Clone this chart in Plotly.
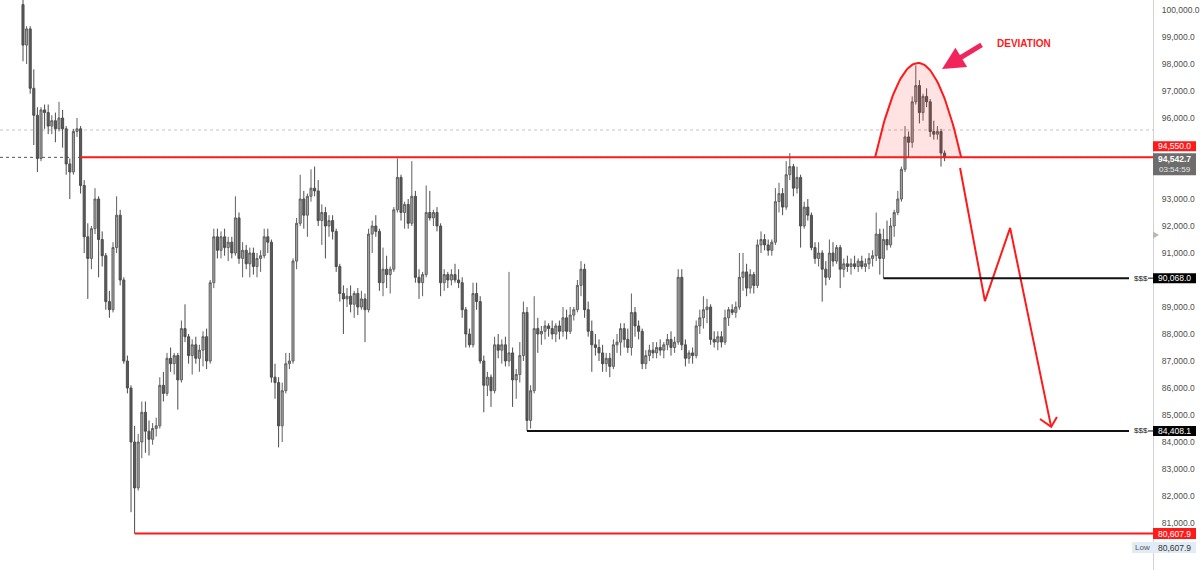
import plotly.graph_objects as go

# ---------------- candle data (prices in thousands of USD) ----------------
open_k = [100.2, 98.7, 99.3, 97.1, 96.1, 94.5, 96.3, 96.2, 95.7, 95.9,
          95.6, 96.0, 95.6, 94.3, 94.0, 95.5, 95.6, 93.5, 91.6, 90.8,
          91.9, 93.0, 91.5, 90.9, 89.2, 88.9, 91.2, 92.4, 90.0, 87.0,
          86.0, 84.0, 82.3, 84.0, 85.1, 84.4, 84.1, 84.5, 84.6, 86.1,
          85.8, 87.1, 86.9, 87.2, 86.3, 88.2, 87.9, 87.2, 87.6, 87.1,
          87.4, 87.9, 87.0, 89.9, 91.6, 91.1, 91.6, 91.2, 91.4, 91.0,
          92.3, 90.8, 91.1, 90.6, 91.0, 90.5, 90.8, 90.9, 91.6, 91.4,
          86.4, 86.2, 84.6, 85.9, 86.9, 87.0, 90.7, 92.1, 93.0, 92.4,
          93.1, 93.4, 93.3, 92.2, 92.5, 92.0, 92.2, 91.8, 90.5, 89.5,
          89.3, 89.4, 89.1, 89.5, 89.0, 89.3, 88.9, 91.7, 92.0, 91.8,
          89.9, 90.4, 90.2, 90.4, 92.6, 93.8, 92.5, 92.8, 92.1, 93.1,
          90.1, 89.9, 90.2, 92.5, 92.3, 92.5, 92.0, 89.9, 90.2, 90.0,
          90.2, 90.0, 89.9, 88.9, 88.0, 87.6, 89.5, 89.2, 87.0, 86.1,
          86.4, 85.9, 87.6, 87.4, 87.6, 87.0, 87.3, 86.3, 86.5, 87.2,
          88.8, 84.8, 85.9, 88.2, 88.0, 88.1, 88.3, 88.2, 88.0, 88.3,
          88.1, 88.6, 88.1, 88.7, 88.9, 89.8, 90.4, 88.9, 88.1, 87.6,
          87.5, 87.3, 86.9, 87.1, 86.8, 87.6, 87.7, 88.2, 87.8, 87.5,
          88.8, 88.3, 88.1, 86.9, 87.2, 87.4, 87.3, 87.5, 87.4, 87.6,
          87.8, 87.5, 87.7, 90.1, 87.6, 87.1, 87.3, 87.2, 88.3, 88.6,
          88.9, 89.0, 87.8, 87.7, 87.9, 87.7, 88.6, 88.9, 88.8, 89.0,
          90.1, 90.3, 89.7, 90.2, 89.8, 91.3, 91.5, 91.3, 91.1, 91.4,
          92.9, 93.2, 92.7, 93.9, 94.2, 93.4, 93.8, 92.0, 92.7, 92.4,
          91.2, 90.8, 91.0, 90.4, 90.1, 91.0, 90.7, 91.2, 90.4, 90.6,
          90.5, 90.6, 90.5, 90.7, 90.5, 90.6, 90.8, 90.9, 91.7, 90.8,
          91.5, 91.3, 92.0, 92.5, 93.0, 94.1, 95.3, 95.1, 96.6, 97.2,
          96.2, 96.8, 96.6, 95.5, 95.4, 95.5, 94.7]
high_k = [100.8, 99.4, 99.4, 97.8, 96.4, 96.4, 96.5, 96.5, 96.1, 96.2,
          96.6, 96.3, 95.7, 94.5, 95.6, 96.0, 95.7, 93.7, 92.1, 92.0,
          93.4, 93.1, 91.8, 91.0, 89.6, 91.4, 93.1, 92.6, 90.1, 87.2,
          86.1, 84.6, 84.3, 85.5, 85.5, 84.8, 84.7, 84.9, 86.4, 86.6,
          87.3, 87.5, 87.3, 87.3, 88.5, 89.1, 88.0, 87.8, 87.9, 87.6,
          88.1, 88.2, 90.0, 91.9, 91.9, 91.8, 91.9, 91.6, 91.6, 93.1,
          92.5, 91.4, 91.3, 91.2, 91.2, 91.0, 91.1, 91.9, 91.9, 91.5,
          86.9, 86.4, 86.2, 87.3, 87.3, 90.8, 92.3, 93.9, 93.3, 93.2,
          94.1, 94.2, 93.7, 92.8, 92.7, 92.4, 92.4, 91.9, 90.6, 89.8,
          89.7, 89.8, 89.6, 89.7, 89.6, 89.5, 91.9, 92.2, 92.4, 91.9,
          91.2, 90.9, 90.5, 92.7, 94.5, 93.9, 92.9, 93.0, 94.4, 93.3,
          90.4, 90.3, 93.5, 93.3, 92.6, 92.7, 92.1, 90.4, 90.3, 90.4,
          90.6, 90.4, 90.1, 89.0, 88.2, 89.9, 89.9, 89.4, 87.2, 86.6,
          86.5, 87.9, 88.0, 87.8, 87.9, 90.3, 87.5, 86.7, 87.7, 89.2,
          89.0, 86.1, 89.4, 88.6, 88.3, 88.5, 88.4, 88.5, 88.4, 88.5,
          89.0, 88.9, 89.0, 89.0, 90.0, 90.7, 90.6, 89.2, 88.5, 88.0,
          87.8, 87.6, 87.3, 87.3, 87.8, 88.0, 88.4, 88.4, 88.2, 89.5,
          89.0, 88.5, 88.2, 87.4, 87.6, 87.7, 87.7, 87.8, 87.7, 88.0,
          88.1, 87.9, 90.4, 90.4, 87.8, 87.4, 87.5, 88.5, 88.9, 89.4,
          89.3, 89.1, 88.1, 88.1, 88.1, 88.9, 89.0, 89.1, 89.2, 91.0,
          91.0, 90.6, 90.4, 90.3, 91.5, 91.8, 91.7, 91.5, 91.5, 93.4,
          93.6, 93.4, 94.4, 94.7, 94.3, 94.2, 93.9, 92.9, 93.0, 92.5,
          91.4, 91.4, 91.1, 90.7, 91.5, 91.4, 91.3, 91.3, 90.8, 90.9,
          90.8, 90.9, 90.8, 90.9, 90.8, 91.0, 91.1, 92.5, 91.9, 91.9,
          92.2, 92.3, 92.6, 93.3, 94.2, 95.7, 95.5, 96.8, 97.95, 97.4,
          96.9, 97.1, 96.7, 95.9, 95.7, 95.6, 94.8]
low_k = [98.1, 98.0, 96.9, 95.0, 94.0, 94.4, 95.6, 95.4, 95.4, 95.1,
         95.5, 94.9, 93.9, 93.0, 93.9, 95.3, 93.2, 91.0, 89.3, 90.4,
         91.7, 90.1, 90.5, 88.9, 88.6, 88.8, 91.0, 89.8, 86.9, 85.8,
         81.4, 80.6079, 82.2, 83.4, 83.6, 83.5, 83.9, 84.2, 84.5, 85.5,
         85.7, 86.6, 86.5, 85.2, 86.2, 87.7, 86.9, 86.5, 86.9, 86.6,
         86.8, 86.7, 86.9, 89.7, 90.8, 90.8, 90.9, 90.7, 90.8, 90.9,
         90.6, 90.1, 90.4, 90.1, 90.2, 90.1, 90.3, 90.8, 91.0, 86.2,
         85.6, 83.8, 84.0, 85.8, 86.7, 86.9, 90.4, 92.0, 91.9, 91.6,
         92.9, 93.1, 92.0, 91.3, 90.8, 91.6, 91.5, 90.3, 89.2, 88.0,
         89.0, 88.8, 88.6, 88.7, 88.9, 87.7, 88.8, 91.0, 91.6, 89.6,
         89.4, 89.7, 89.5, 90.3, 92.5, 92.2, 91.9, 91.9, 92.0, 89.9,
         89.3, 89.4, 90.1, 92.2, 92.0, 91.8, 89.4, 89.6, 89.7, 89.8,
         89.9, 89.7, 88.6, 87.5, 87.5, 87.5, 88.9, 86.9, 85.1, 85.7,
         85.3, 85.8, 87.1, 86.9, 86.8, 86.8, 85.3, 85.6, 86.2, 87.0,
         84.4081, 84.5, 85.8, 87.3, 87.6, 87.8, 87.9, 87.8, 87.7, 87.8,
         87.9, 87.8, 88.0, 88.5, 88.8, 89.4, 88.6, 87.9, 86.6, 87.2,
         87.0, 86.6, 86.6, 86.4, 86.7, 87.3, 87.2, 87.5, 87.3, 87.2,
         87.9, 87.8, 86.7, 86.7, 87.0, 87.1, 87.1, 87.2, 87.1, 87.4,
         87.2, 87.3, 87.6, 87.4, 86.8, 86.9, 86.9, 87.1, 88.0, 88.2,
         88.4, 87.6, 87.5, 87.4, 87.5, 87.6, 88.3, 88.7, 88.6, 88.9,
         89.6, 89.4, 89.5, 89.5, 89.7, 91.0, 91.1, 90.9, 90.9, 91.3,
         92.5, 92.4, 92.6, 93.7, 93.1, 93.2, 91.2, 91.9, 92.2, 91.1,
         90.6, 90.5, 89.2, 89.8, 90.0, 90.5, 90.6, 89.7, 90.1, 90.3,
         90.2, 90.4, 90.3, 90.4, 90.3, 90.4, 90.5, 90.7, 90.2, 90.068,
         91.1, 91.2, 91.6, 92.4, 92.9, 94.0, 94.55, 94.9, 96.5, 95.8,
         95.9, 96.4, 95.3, 95.2, 95.2, 94.2, 94.4]
close_k = [98.7, 99.3, 97.1, 96.1, 94.5, 96.3, 96.2, 95.7, 95.9, 95.6,
           96.0, 95.6, 94.3, 94.0, 95.5, 95.6, 93.5, 91.6, 90.8, 91.9,
           93.0, 91.5, 90.9, 89.2, 88.9, 91.2, 92.4, 90.0, 87.0, 86.0,
           84.0, 82.3, 84.0, 85.1, 84.4, 84.1, 84.5, 84.6, 86.1, 85.8,
           87.1, 86.9, 87.2, 86.3, 88.2, 87.9, 87.2, 87.6, 87.1, 87.4,
           87.9, 87.0, 89.9, 91.6, 91.1, 91.6, 91.2, 91.4, 91.0, 92.3,
           90.8, 91.1, 90.6, 91.0, 90.5, 90.8, 90.9, 91.6, 91.4, 86.4,
           86.2, 84.6, 85.9, 86.9, 87.0, 90.7, 92.1, 93.0, 92.4, 93.1,
           93.4, 93.3, 92.2, 92.5, 92.0, 92.2, 91.8, 90.5, 89.5, 89.3,
           89.4, 89.1, 89.5, 89.0, 89.3, 88.9, 91.7, 92.0, 91.8, 89.9,
           90.4, 90.2, 90.4, 92.6, 93.8, 92.5, 92.8, 92.1, 93.1, 90.1,
           89.9, 90.2, 92.5, 92.3, 92.5, 92.0, 89.9, 90.2, 90.0, 90.2,
           90.0, 89.9, 88.9, 88.0, 87.6, 89.5, 89.2, 87.0, 86.1, 86.4,
           85.9, 87.6, 87.4, 87.6, 87.0, 87.3, 86.3, 86.5, 87.2, 88.8,
           84.8, 85.9, 88.2, 88.0, 88.1, 88.3, 88.2, 88.0, 88.3, 88.1,
           88.6, 88.1, 88.7, 88.9, 89.8, 90.4, 88.9, 88.1, 87.6, 87.5,
           87.3, 86.9, 87.1, 86.8, 87.6, 87.7, 88.2, 87.8, 87.5, 88.8,
           88.3, 88.1, 86.9, 87.2, 87.4, 87.3, 87.5, 87.4, 87.6, 87.8,
           87.5, 87.7, 90.1, 87.6, 87.1, 87.3, 87.2, 88.3, 88.6, 88.9,
           89.0, 87.8, 87.7, 87.9, 87.7, 88.6, 88.9, 88.8, 89.0, 90.1,
           90.3, 89.7, 90.2, 89.8, 91.3, 91.5, 91.3, 91.1, 91.4, 92.9,
           93.2, 92.7, 93.9, 94.2, 93.4, 93.8, 92.0, 92.7, 92.4, 91.2,
           90.8, 91.0, 90.4, 90.1, 91.0, 90.7, 91.2, 90.4, 90.6, 90.5,
           90.6, 90.5, 90.7, 90.5, 90.6, 90.8, 90.9, 91.7, 90.8, 91.5,
           91.3, 92.0, 92.5, 93.0, 94.1, 95.3, 95.1, 96.6, 97.2, 96.2,
           96.8, 96.6, 95.5, 95.4, 95.5, 94.7, 94.5427]

# ---------------- levels / labels ----------------
price_ticks = [81000, 82000, 83000, 84000, 85000, 86000, 87000, 88000, 89000,
               91000, 92000, 93000, 96000, 97000, 98000, 99000, 100000]
resistance = 94550.0
current_price = 94542.7
countdown = "03:54:59"
liq_high = 90068.0
liq_low = 84408.1
range_low = 80607.9
faint_level = 95555.0
resistance_start = 16
liq_high_start = 239
liq_low_start = 140
range_low_start = 31

# drawing (annotation) points in chart space: x = candle index, y = price
arc_left, arc_right, arc_top = 236.7, 260.6, 98037.0
proj_x = [260.3, 267.2, 274.2, 285.6]
proj_y = [94150, 89220, 91930, 84560]
head_x = [282.5, 285.6, 287.2]
head_y = [84850, 84560, 84930]
dev_tip_x, dev_tip_y = 255.3, 97815.0
dev_text_x, dev_text_y = 278.1, 98741.0

# ---------------- geometry ----------------
W, H = 1200, 570
PLOT_W = 1153
X_MIN, X_MAX = -6.389, 313.889
Y_MIN, Y_MAX = 79259.26, 100370.37
PX = (Y_MAX - Y_MIN) / H  # price per pixel

def xpx(px):
    return px / PLOT_W

def idx_of_px(px):
    return X_MIN + (X_MAX - X_MIN) * px / PLOT_W

def px_of(price):
    return (Y_MAX - price) / PX

FONT = "Liberation Sans, Arial, sans-serif"

n = len(close_k)
xs = list(range(n))
fig = go.Figure()

fig.add_trace(go.Candlestick(
    x=xs,
    open=[v * 1000 for v in open_k],
    high=[v * 1000 for v in high_k],
    low=[v * 1000 for v in low_k],
    close=[v * 1000 for v in close_k],
    increasing=dict(line=dict(color="#606060", width=1), fillcolor="#a4a4a4"),
    decreasing=dict(line=dict(color="#4c4c4c", width=1), fillcolor="#5a5a5a"),
    whiskerwidth=0, hoverinfo="skip", showlegend=False,
))

# deviation arc
steps = 60
arc_x = [arc_left + (arc_right - arc_left) * k / steps for k in range(steps + 1)]
arc_y = [resistance + (arc_top - resistance) * (1 - (2 * k / steps - 1) ** 2) for k in range(steps + 1)]
fig.add_trace(go.Scatter(x=arc_x, y=arc_y, mode="lines", fill="toself",
                         fillcolor="rgba(255,40,40,0.13)",
                         line=dict(color="#ff1a1a", width=2),
                         hoverinfo="skip", showlegend=False))

# projection path
fig.add_trace(go.Scatter(x=proj_x, y=proj_y, mode="lines",
                         line=dict(color="#ff1a1a", width=2),
                         hoverinfo="skip", showlegend=False))
fig.add_trace(go.Scatter(x=head_x, y=head_y, mode="lines",
                         line=dict(color="#ff1a1a", width=2),
                         hoverinfo="skip", showlegend=False))

shapes = []
shapes.append(dict(type="line", xref="x", yref="y", x0=X_MIN, x1=X_MAX,
                   y0=faint_level, y1=faint_level,
                   line=dict(color="#c4c4c4", width=1, dash="dot"), layer="below"))
shapes.append(dict(type="line", xref="x", yref="y", x0=X_MIN, x1=X_MAX,
                   y0=current_price, y1=current_price,
                   line=dict(color="#555555", width=1, dash="dot"), layer="below"))
shapes.append(dict(type="line", xref="x", yref="y", x0=resistance_start, x1=X_MAX,
                   y0=resistance, y1=resistance,
                   line=dict(color="#ff1a1a", width=2)))
shapes.append(dict(type="line", xref="x", yref="y", x0=range_low_start, x1=X_MAX,
                   y0=range_low, y1=range_low,
                   line=dict(color="#ff1a1a", width=2)))
line_end = idx_of_px(1129)
for lvl, start in ((liq_high, liq_high_start), (liq_low, liq_low_start)):
    shapes.append(dict(type="line", xref="x", yref="y", x0=start, x1=line_end,
                       y0=lvl, y1=lvl, line=dict(color="#111111", width=2)))
    shapes.append(dict(type="line", xref="x", yref="y", x0=idx_of_px(1148), x1=X_MAX,
                       y0=lvl, y1=lvl, line=dict(color="#111111", width=1)))

def badge(y_center_px, y_half_px, color, x0_px=1153, x1_px=1196):
    return dict(type="rect", xref="paper", yref="paper",
                x0=xpx(x0_px), x1=xpx(x1_px),
                y0=1 - (y_center_px + y_half_px) / H, y1=1 - (y_center_px - y_half_px) / H,
                fillcolor=color, line=dict(width=0), layer="above")

res_c = px_of(resistance) - 11
cur_c = px_of(current_price) + 7
shapes.append(badge(res_c, 5, "#ff1a1a"))
shapes.append(badge(cur_c, 11, "#6d6d6d"))
shapes.append(badge(px_of(liq_high), 5, "#000000"))
shapes.append(badge(px_of(liq_low), 5, "#000000"))
shapes.append(badge(px_of(range_low), 5.5, "#ff1a1a"))
low_c = px_of(range_low) + 14
shapes.append(badge(low_c, 5.5, "#e2ecf7", 1132, 1153))
shapes.append(badge(low_c, 5.5, "#e2ecf7"))
tri_c = 235
shapes.append(dict(type="path", xref="paper", yref="paper",
                   path=f"M {xpx(1153)} {1 - (tri_c - 3.5) / H} L {xpx(1159)} {1 - tri_c / H} "
                        f"L {xpx(1153)} {1 - (tri_c + 3.5) / H} Z",
                   fillcolor="#b8b8b8", line=dict(width=0)))

annotations = []

def label(text, y_px, color, size=8.5, bold=False, x_px=1174.5):
    t = f"<b>{text}</b>" if bold else text
    annotations.append(dict(xref="paper", yref="paper", x=xpx(x_px), y=1 - y_px / H,
                            text=t, showarrow=False, xanchor="center", yanchor="middle",
                            font=dict(family=FONT, size=size, color=color)))

label(f"{resistance:,.1f}", res_c, "#ffffff")
label(f"{current_price:,.1f}", cur_c - 5, "#ffffff", bold=True)
label(countdown, cur_c + 5.5, "#e6e6e6", size=8)
label(f"{liq_high:,.1f}", px_of(liq_high), "#ffffff")
label(f"{liq_low:,.1f}", px_of(liq_low), "#ffffff")
label(f"{range_low:,.1f}", px_of(range_low), "#ffffff")
label("Low", low_c, "#555555", size=8, x_px=1142)
label(f"{range_low:,.1f}", low_c, "#333333")
for lvl in (liq_high, liq_low):
    label("$$$", px_of(lvl), "#222222", size=8, x_px=1140.5)

annotations.append(dict(xref="x", yref="y", x=dev_tip_x, y=dev_tip_y, text="",
                        showarrow=True, ax=41, ay=-25, arrowhead=2, arrowsize=0.9,
                        arrowwidth=5, arrowcolor="#f2245c", standoff=0))
annotations.append(dict(xref="x", yref="y", x=dev_text_x, y=dev_text_y,
                        text="<b>DEVIATION</b>", showarrow=False,
                        xanchor="center", yanchor="middle",
                        font=dict(family=FONT, size=10, color="#ff1a1a")))

fig.update_layout(
    width=W, height=H,
    margin=dict(l=0, r=W - PLOT_W, t=0, b=0),
    paper_bgcolor="#ffffff", plot_bgcolor="#ffffff",
    showlegend=False, boxgap=0.18,
    shapes=shapes, annotations=annotations,
    xaxis=dict(range=[X_MIN, X_MAX], visible=False, showgrid=False,
               rangeslider=dict(visible=False), fixedrange=True),
    yaxis=dict(range=[Y_MIN, Y_MAX], side="right", showgrid=False, zeroline=False,
               tickvals=price_ticks, ticktext=[f"{v:,.1f}" for v in price_ticks],
               ticks="", ticklabelstandoff=6, showline=True, linecolor="#d2d2d2",
               linewidth=1, tickfont=dict(family=FONT, size=8.5, color="#4d4d4d"),
               fixedrange=True),
)

fig.write_html("out.html", config={"displayModeBar": False},
               post_script="document.body.style.margin='0px';document.body.style.overflow='hidden';")
